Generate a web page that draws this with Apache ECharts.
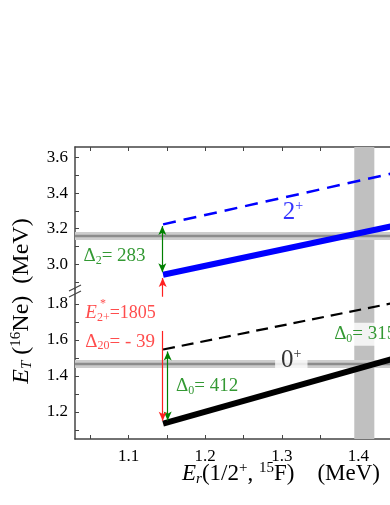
<!DOCTYPE html>
<html>
<head>
<meta charset="utf-8">
<script src="https://cdn.jsdelivr.net/npm/echarts@6/dist/echarts.min.js"></script>
<style>
  html, body { margin: 0; padding: 0; background: #fff; }
  #chart { width: 390px; height: 505px; }
</style>
</head>
<body>
<div id="chart"></div>
<script>
// ejes
const xTicks = [1.05, 1.1, 1.15, 1.2, 1.25, 1.3, 1.35, 1.4, 1.45, 1.5];
const xLabels = [1.1, 1.2, 1.3, 1.4];
const yTopTicks = [2.9, 3.0, 3.1, 3.2, 3.3, 3.4, 3.5, 3.6];
const yTopLabels = [3.0, 3.2, 3.4, 3.6];
const yLowTicks = [1.1, 1.2, 1.3, 1.4, 1.5, 1.6, 1.7, 1.8];
const yLowLabels = [1.2, 1.4, 1.6, 1.8];

// lineas E_T vs E_r
const eR = [1.145, 1.5];
const twoSolid = [2.94, 3.265];
const twoDash = [3.224, 3.565];
const zeroSolid = [1.135, 1.561];
const zeroDash = [1.547, 1.852];

// bandas experimentales
const band2 = 3.158;
const band0 = 1.467;
const bandX = [1.3946, 1.4208];

// flechas [x, y desde, y hasta]
const greenTop = [1.144, 2.955, 3.215];
const redTop = [1.1445, 2.86, 2.922];
const redMid = [1.1445, 1.883, 1.84];
const greenLow = [1.151, 1.153, 1.536];
const redLow = [1.1445, 1.65, 1.151];

const FONT = "'Liberation Serif', 'DejaVu Serif', serif";
const pairs = ys => eR.map((x, i) => [x, ys[i]]);

const rich = {
  t: { fontSize: 19, fontFamily: FONT },
  t18: { fontSize: 18, fontFamily: FONT },
  it: { fontSize: 19, fontFamily: FONT, fontStyle: 'italic' },
  sub: { fontSize: 12, fontFamily: FONT, padding: [9, 0, 0, 0] },
  sup: { fontSize: 12, fontFamily: FONT, padding: [0, 0, 10, 0] },
  star: { fontSize: 12, fontFamily: FONT },
  big: { fontSize: 25, fontFamily: FONT },
  bsup: { fontSize: 14, fontFamily: FONT, padding: [0, 0, 13, 0] }
};

// textos anotados
const notesTop = [
  { value: [1.041, 3.045], text: '{t|Δ}{sub|2}{t|= 283}', color: '#008000', pos: 'right' },
  { value: [1.3146, 3.29], text: '{big|2}{bsup|+}', color: '#0000ff', pos: 'inside' }
];
const notesLow = [
  { value: [1.0435, 1.75], text: '{it|E}{sub|2+}{t18|=1805}', color: '#ff2020', pos: 'right' },
  { value: [1.0625, 1.80], text: '{star|*}', color: '#ff2020', pos: 'right' },
  { value: [1.0435, 1.59], text: '{t|Δ}{sub|20}{t|= - 39}', color: '#ff2020', pos: 'right' },
  { value: [1.162, 1.343], text: '{t|Δ}{sub|0}{t|= 412}', color: '#008000', pos: 'right' },
  { value: [1.3124, 1.485], text: '{big|0}{bsup|+}', color: '#000', pos: 'inside', bg: true },
  { value: [1.3605, 1.632], text: '{t|Δ}{sub|0}{t|= 315}', color: '#008000', pos: 'right', bg: true }
];

function noteSeries(notes, gi) {
  return {
    type: 'scatter', xAxisIndex: gi, yAxisIndex: gi, z: 10, silent: true,
    symbolSize: 0,
    data: notes.map(n => ({
      value: n.value,
      label: {
        show: true, position: n.pos, distance: 0, color: n.color,
        fontFamily: FONT, formatter: n.text, rich: rich,
        backgroundColor: n.bg ? '#fff' : 'transparent',
        padding: n.bg ? [1, 6] : 0
      }
    }))
  };
}

function arrow(list) {
  return {
    silent: true, symbolSize: [6, 9],
    label: { show: false },
    data: list.map(([a, color, head]) => [
      { coord: [a[0], a[1]], symbol: head === 2 ? 'arrow' : 'none',
        lineStyle: { color: color, width: 1.2, type: 'solid' } },
      { coord: [a[0], a[2]], symbol: head ? 'arrow' : 'none' }
    ])
  };
}

function bandSeries(y, gi) {
  return [{
    type: 'line', xAxisIndex: gi, yAxisIndex: gi, symbol: 'none', silent: true,
    lineStyle: { color: '#cdcdcd', width: 8 },
    data: [[1.03, y], [1.5, y]],
    markArea: {
      silent: true, itemStyle: { color: '#c0c0c0' },
      data: [[{ xAxis: bandX[0] }, { xAxis: bandX[1] }]]
    }
  }, {
    type: 'line', xAxisIndex: gi, yAxisIndex: gi, symbol: 'none', silent: true,
    lineStyle: { color: '#8c8c8c', width: 2.5 },
    data: [[1.03, y], [1.5, y]]
  }];
}

const axisCol = '#444';
function xAxis(gi, top) {
  return {
    type: 'value', gridIndex: gi, min: 1.03, max: 1.5, position: top ? 'top' : 'bottom',
    axisLine: { show: true, onZero: false, lineStyle: { color: axisCol, width: 1.5 } },
    axisTick: { show: true, inside: true, length: 4, customValues: xTicks, lineStyle: { color: axisCol } },
    axisLabel: {
      show: !top, customValues: xLabels, formatter: v => v.toFixed(1),
      fontFamily: FONT, fontSize: 17, color: '#000', margin: 9
    },
    splitLine: { show: false }
  };
}
function yAxis(gi, min, max, ticks, labels) {
  return {
    type: 'value', gridIndex: gi, min: min, max: max,
    axisLine: { show: true, onZero: false, lineStyle: { color: axisCol, width: 1.5 } },
    axisTick: { show: true, inside: true, length: 4, customValues: ticks, lineStyle: { color: axisCol } },
    axisLabel: {
      customValues: labels, formatter: v => v.toFixed(1),
      fontFamily: FONT, fontSize: 17, color: '#000', margin: 7
    },
    splitLine: { show: false }
  };
}

const chart = echarts.init(document.getElementById('chart'));
chart.setOption({
  animation: false,
  backgroundColor: '#fff',
  textStyle: { fontFamily: FONT },
  grid: [
    { left: 75, top: 147, width: 360, height: 142, outerBoundsMode: 'none', containLabel: false },
    { left: 75, top: 289, width: 360, height: 150, outerBoundsMode: 'none', containLabel: false }
  ],
  xAxis: [xAxis(0, true), xAxis(1, false)],
  yAxis: [
    yAxis(0, 2.86, 3.66, yTopTicks, yTopLabels),
    yAxis(1, 1.05, 1.883, yLowTicks, yLowLabels)
  ],
  series: [
    ...bandSeries(band2, 0),
    ...bandSeries(band0, 1),
    {
      type: 'line', xAxisIndex: 0, yAxisIndex: 0, symbol: 'none', silent: true,
      lineStyle: { color: '#0000ff', width: 6 }, data: pairs(twoSolid),
      markLine: arrow([[greenTop, '#008000', 2], [redTop, '#ff2020', 1]])
    },
    {
      type: 'line', xAxisIndex: 0, yAxisIndex: 0, symbol: 'none', silent: true,
      lineStyle: { color: '#0000ff', width: 2.5, type: [13, 8] }, data: pairs(twoDash)
    },
    {
      type: 'line', xAxisIndex: 1, yAxisIndex: 1, symbol: 'none', silent: true,
      lineStyle: { color: '#000', width: 6 }, data: pairs(zeroSolid),
      markLine: arrow([[greenLow, '#008000', 2], [redLow, '#ff2020', 1], [redMid, '#ff2020', 0]])
    },
    {
      type: 'line', xAxisIndex: 1, yAxisIndex: 1, symbol: 'none', silent: true,
      lineStyle: { color: '#000', width: 2.2, type: [12, 7] }, data: pairs(zeroDash)
    },
    noteSeries(notesTop, 0),
    noteSeries(notesLow, 1)
  ],
  graphic: [
    {
      type: 'text', x: 281, y: 474, silent: true,
      style: {
        text: '{it|E}{isub|r}{t|(1/2}{sup|+}{t|, }{sup|15}{t|F)    (MeV)}',
        rich: {
          t: { fontSize: 23, fontFamily: FONT, fill: '#000' },
          it: { fontSize: 23, fontFamily: FONT, fontStyle: 'italic', fill: '#000' },
          isub: { fontSize: 15, fontFamily: FONT, fontStyle: 'italic', fill: '#000', padding: [10, 0, 0, 0] },
          sup: { fontSize: 15, fontFamily: FONT, fill: '#000', padding: [0, 0, 11, 0] }
        },
        align: 'center', verticalAlign: 'middle'
      }
    },
    {
      type: 'text', x: 22, y: 301, rotation: Math.PI / 2, silent: true,
      style: {
        text: '{it|E}{isub|T}{t| (}{sup|16}{t|Ne)  (MeV)}',
        rich: {
          t: { fontSize: 24, fontFamily: FONT, fill: '#000' },
          it: { fontSize: 24, fontFamily: FONT, fontStyle: 'italic', fill: '#000' },
          isub: { fontSize: 15, fontFamily: FONT, fontStyle: 'italic', fill: '#000', padding: [10, 0, 0, 0] },
          sup: { fontSize: 15, fontFamily: FONT, fill: '#000', padding: [0, 0, 11, 0] }
        },
        align: 'center', verticalAlign: 'middle'
      }
    },
    { type: 'rect', silent: true, shape: { x: 73, y: 288, width: 5, height: 6 }, style: { fill: '#fff' } },
    { type: 'line', silent: true, shape: { x1: 69, y1: 291, x2: 81, y2: 285 }, style: { stroke: axisCol, lineWidth: 1.2 } },
    { type: 'line', silent: true, shape: { x1: 69, y1: 297, x2: 81, y2: 291 }, style: { stroke: axisCol, lineWidth: 1.2 } }
  ]
});
</script>
</body>
</html>
